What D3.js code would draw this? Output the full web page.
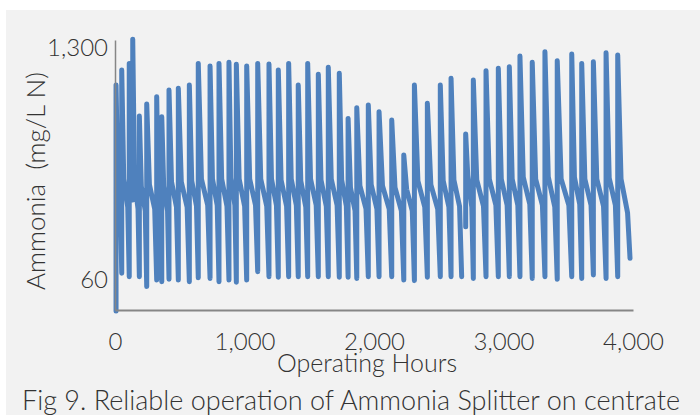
<!DOCTYPE html>
<html>
<head>
<meta charset="utf-8">
<script src="https://cdn.jsdelivr.net/npm/d3@7"></script>
<style>
  body { margin: 0; background: #fff; }
  text { font-family: Lato, "Open Sans", sans-serif; font-weight: 300; fill: #333; }
</style>
</head>
<body>
<div id="chart"></div>
<script>
// Hours at which each cycle rises (vertical jump)
const riseHours = [8, 52, 110, 137, 188, 245, 322, 361, 417, 489, 574, 643, 734, 803, 880, 937,
  1017, 1102, 1189, 1261, 1341, 1415, 1488, 1570, 1647, 1732, 1800, 1867, 1956, 2039, 2137,
  2230, 2312, 2412, 2512, 2595, 2708, 2767, 2865, 2960, 3045, 3127, 3222, 3320, 3415, 3527,
  3604, 3694, 3792, 3882];
// Peak ammonia after each rise (mg/L N)
const peakValues = [1102, 1183, 1218, 1347, 937, 1001, 1040, 933, 1076, 1085, 1102, 1218, 1204,
  1218, 1224, 1213, 1204, 1218, 1215, 1183, 1218, 1102, 1218, 1160, 1197, 1165, 924, 981, 996,
  960, 915, 728, 1102, 1005, 1102, 1138, 841, 1129, 1179, 1192, 1200, 1257, 1224, 1280, 1232,
  1268, 1218, 1227, 1275, 1263];
// Level at the knee of the decay, and just before the final drop
const kneeValues = [640, 600, 600, 590, 560, 570, 575, 560, 585, 585, 590, 600, 600, 600, 605,
  600, 600, 600, 600, 595, 600, 590, 600, 595, 600, 595, 555, 565, 570, 565, 555, 545, 590, 570,
  590, 595, 620, 595, 600, 600, 600, 610, 600, 612, 600, 610, 600, 600, 605, 600];
const lowValues = [430, 450, 520, 440, 430, 440, 445, 430, 450, 450, 455, 460, 460, 455, 460,
  455, 460, 455, 460, 455, 460, 450, 460, 455, 460, 455, 430, 440, 440, 440, 430, 430, 450, 440,
  450, 455, 450, 455, 460, 460, 460, 465, 460, 450, 460, 465, 460, 455, 460, 420];
// Minimum reached at the end of each cycle
const troughValues = [96, 78, 488, 78, 25, 60, 51, 64, 60, 51, 72, 69, 51, 60, 48, 60, 105, 78,
  75, 78, 78, 78, 78, 78, 75, 75, 69, 78, 78, 78, 60, 57, 75, 78, 78, 78, 69, 78, 78, 78, 78, 69,
  78, 64, 78, 69, 87, 69, 78, 176];
const startValue = -105;     // first logged point
const lastHour = 3977;       // last logged point
const gap = { from: 2677, to: 2708, value: 345 }; // missing records

const xTicks = [0, 1000, 2000, 3000, 4000];
const yTicks = [60, 1300];

const W = 700, H = 415;

const svg = d3.select("#chart").append("svg")
  .attr("width", W)
  .attr("height", H);

svg.append("rect")
  .attr("x", 6).attr("y", 10)
  .attr("width", W - 6).attr("height", H - 10)
  .attr("fill", "#f2f2f2");

const x = d3.scaleLinear().domain([0, 4000]).range([115, 633]);
const y = d3.scaleLinear().domain([-100, 1343]).range([310, 40]);

// build the series from the cycle readings
const points = [];
riseHours.forEach((t0, i) => {
  let t1 = i < riseHours.length - 1 ? riseHours[i + 1] : lastHour;
  if (t1 === gap.to) t1 = gap.from;
  if (i === 0) points.push({ h: t0, v: startValue });
  if (t0 === gap.to) {
    points.push(null); // Excel leaves a gap for the missing rows
    points.push({ h: t0, v: gap.value });
  }
  const w = t1 - t0;
  points.push({ h: t0, v: peakValues[i] });
  points.push({ h: t0 + 0.27 * w, v: kneeValues[i] });
  points.push({ h: t0 + 0.8 * w, v: lowValues[i] });
  points.push({ h: t1, v: troughValues[i] });
});

const line = d3.line()
  .defined((d) => d !== null)
  .x((d) => x(d.h))
  .y((d) => y(d.v));

svg.append("path")
  .datum(points)
  .attr("fill", "none")
  .attr("stroke", "#4f81bd")
  .attr("stroke-width", 5)
  .attr("stroke-linejoin", "round")
  .attr("stroke-linecap", "round")
  .attr("d", line);

// axes
const xAxis = svg.append("g")
  .attr("transform", "translate(0,310)")
  .call(d3.axisBottom(x).tickValues(xTicks).tickSize(0).tickPadding(23).tickFormat(d3.format(",")));
xAxis.select(".domain").attr("stroke", "#868686").attr("stroke-width", 2);
xAxis.selectAll("text").attr("font-size", 24).attr("fill", "#333");

const yAxis = svg.append("g")
  .attr("transform", "translate(115,0)")
  .call(d3.axisLeft(y).tickValues(yTicks).tickSize(0).tickPadding(7).tickFormat(d3.format(",")));
yAxis.select(".domain").attr("stroke", "#868686").attr("stroke-width", 1.5);
yAxis.selectAll("text").attr("font-size", 24).attr("fill", "#333");

// titles
svg.append("text")
  .attr("x", 367).attr("y", 372)
  .attr("text-anchor", "middle")
  .attr("font-size", 25)
  .text("Operating Hours");

svg.append("text")
  .attr("transform", "translate(45,181) rotate(-90)")
  .attr("text-anchor", "middle")
  .attr("font-size", 26)
  .style("white-space", "pre")
  .text("Ammonia  (mg/L N)");

svg.append("text")
  .attr("x", 22).attr("y", 410)
  .attr("font-size", 28)
  .attr("textLength", 658)
  .attr("lengthAdjust", "spacingAndGlyphs")
  .text("Fig 9. Reliable operation of Ammonia Splitter on centrate");
</script>
</body>
</html>
